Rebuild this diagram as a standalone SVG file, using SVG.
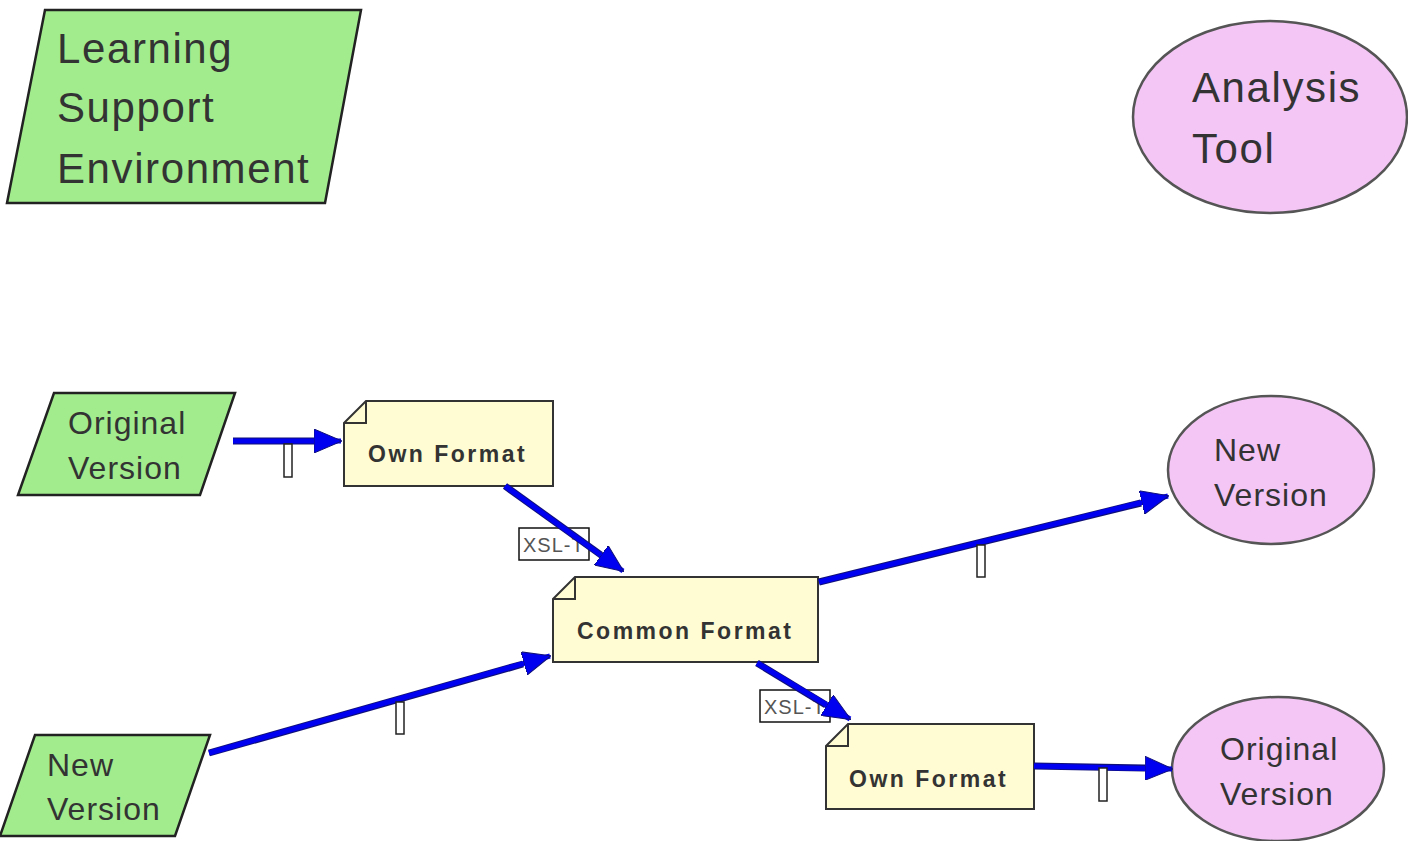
<svg xmlns="http://www.w3.org/2000/svg" width="1408" height="841" viewBox="0 0 1408 841">
  <defs>
    <marker id="arrow" viewBox="0 0 28 24" refX="27" refY="12" markerWidth="28" markerHeight="24" markerUnits="userSpaceOnUse" orient="auto">
      <path d="M0,0 L28,12 L0,24 Z" fill="#0000f0" stroke="#10107a" stroke-width="1"/>
    </marker>
  </defs>
  <style>
    .para { fill: #a2ec8e; stroke: #222; stroke-width: 2.5; }
    .oval { fill: #f4c6f5; stroke: #555; stroke-width: 2.5; }
    .doc { fill: #fffbd2; stroke: #333; stroke-width: 2; }
    .fold { fill: none; stroke: #333; stroke-width: 2; }
    .big { font-family: "Liberation Sans", Arial, sans-serif; font-size: 42px; letter-spacing: 1.6px; fill: #333; }
    .mid { font-family: "Liberation Sans", Arial, sans-serif; font-size: 32px; letter-spacing: 1px; fill: #333; }
    .bold { font-family: "Liberation Sans", Arial, sans-serif; font-size: 23px; font-weight: bold; letter-spacing: 2.5px; fill: #333; }
    .lbl { fill: #fff; stroke: #111; stroke-width: 1.5; }
    .lbltxt { font-family: "Liberation Sans", Arial, sans-serif; font-size: 20px; letter-spacing: 1px; fill: #555; }
    .tick { fill: #fff; stroke: #222; stroke-width: 1.5; }
    .edge-under { stroke: #10107a; stroke-width: 7; fill: none; }
    .edge { stroke: #0000f0; stroke-width: 5; fill: none; marker-end: url(#arrow); }
  </style>

  <!-- Learning Support Environment -->
  <g id="lse">
    <polygon class="para" points="45,10 361,10 325,203 7,203"/>
    <text class="big" x="57" y="63">Learning</text>
    <text class="big" x="57" y="122">Support</text>
    <text class="big" x="57" y="183">Environment</text>
  </g>

  <!-- Analysis Tool -->
  <g id="analysis-tool">
    <ellipse class="oval" cx="1270" cy="117" rx="137" ry="96"/>
    <text class="big" x="1192" y="102">Analysis</text>
    <text class="big" x="1192" y="163">Tool</text>
  </g>

  <!-- Original Version (input) -->
  <g id="orig-in">
    <polygon class="para" points="54,393 235,393 200,495 18,495"/>
    <text class="mid" x="68" y="434">Original</text>
    <text class="mid" x="68" y="479">Version</text>
  </g>

  <!-- New Version (input) -->
  <g id="new-in">
    <polygon class="para" points="35,735 210,735 175,836 0,836"/>
    <text class="mid" x="47" y="776">New</text>
    <text class="mid" x="47" y="820">Version</text>
  </g>

  <!-- Own Format (upper) -->
  <g id="own-top">
    <path class="doc" d="M344,423 L366,401 L553,401 L553,486 L344,486 Z"/>
    <path class="fold" d="M344,423 L366,423 L366,401"/>
    <text class="bold" x="368" y="462">Own Format</text>
  </g>

  <!-- Common Format -->
  <g id="common">
    <path class="doc" d="M553,599 L575,577 L818,577 L818,662 L553,662 Z"/>
    <path class="fold" d="M553,599 L575,599 L575,577"/>
    <text class="bold" x="577" y="639">Common Format</text>
  </g>

  <!-- Own Format (lower) -->
  <g id="own-bottom">
    <path class="doc" d="M826,746 L848,724 L1034,724 L1034,809 L826,809 Z"/>
    <path class="fold" d="M826,746 L848,746 L848,724"/>
    <text class="bold" x="849" y="787">Own Format</text>
  </g>

  <!-- New Version (output) -->
  <g id="new-out">
    <ellipse class="oval" cx="1271" cy="470" rx="103" ry="74"/>
    <text class="mid" x="1214" y="461">New</text>
    <text class="mid" x="1214" y="506">Version</text>
  </g>

  <!-- Original Version (output) -->
  <g id="orig-out">
    <ellipse class="oval" cx="1278" cy="769" rx="106" ry="72"/>
    <text class="mid" x="1220" y="760">Original</text>
    <text class="mid" x="1220" y="805">Version</text>
  </g>

  <!-- Connectors with their labels -->
  <g id="connectors">
    <rect class="lbl" x="519" y="528" width="70" height="32"/>
    <text class="lbltxt" x="523" y="552">XSL-T</text>
    <rect class="lbl" x="760" y="690" width="70" height="32"/>
    <text class="lbltxt" x="764" y="714">XSL-T</text>

    <!-- dark edging under each line -->
    <line class="edge-under" x1="233" y1="441" x2="318" y2="441"/>
    <line class="edge-under" x1="505" y1="486" x2="601" y2="555"/>
    <line class="edge-under" x1="209" y1="753" x2="523" y2="664"/>
    <line class="edge-under" x1="819" y1="582" x2="1141" y2="503"/>
    <line class="edge-under" x1="757" y1="663" x2="826" y2="705"/>
    <line class="edge-under" x1="1034" y1="766" x2="1145" y2="768"/>

    <line class="edge" x1="233" y1="441" x2="341" y2="441"/>
    <line class="edge" x1="505" y1="486" x2="623" y2="571"/>
    <line class="edge" x1="209" y1="753" x2="550" y2="656"/>
    <line class="edge" x1="819" y1="582" x2="1168" y2="496"/>
    <line class="edge" x1="757" y1="663" x2="850" y2="719"/>
    <line class="edge" x1="1034" y1="766" x2="1172" y2="769"/>

    <rect class="tick" x="284" y="444" width="8" height="33"/>
    <rect class="tick" x="396" y="702" width="8" height="32"/>
    <rect class="tick" x="977" y="545" width="8" height="32"/>
    <rect class="tick" x="1099" y="768" width="8" height="33"/>
  </g>
</svg>
